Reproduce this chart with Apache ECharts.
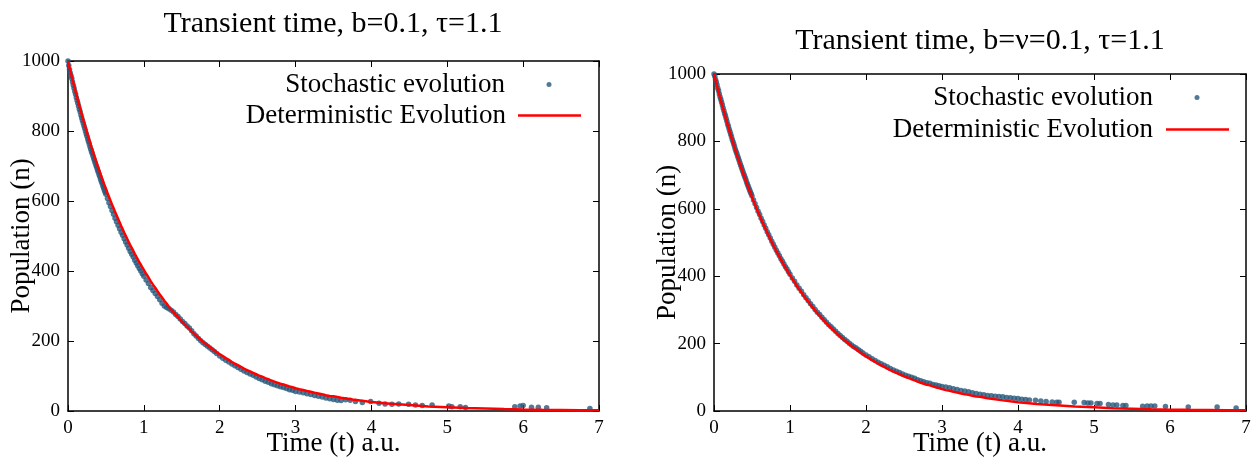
<!DOCTYPE html>
<html><head><meta charset="utf-8">
<script src="https://cdn.jsdelivr.net/npm/echarts@6/dist/echarts.min.js"></script>
<style>html,body{margin:0;padding:0;background:#fff}#c{width:1257px;height:461px}</style>
</head><body><div id="c"></div><script>
// ---------- data ----------
const titles = ['Transient time, b=0.1, τ=1.1', 'Transient time, b=ν=0.1, τ=1.1'];
const xName = 'Time (t) a.u.';
const yName = 'Population (n)';
const seriesNames = ['Stochastic evolution', 'Deterministic Evolution'];

// time samples used for the dense part of the curves
const denseTime = [0,0.01,0.02,0.03,0.04,0.05,0.06,0.07,0.08,0.09,0.10,0.11,0.12,0.13,0.14,0.15,0.16,0.17,0.18,0.19,0.20,0.21,0.22,0.23,0.24,0.25,0.26,0.27,0.28,0.29,0.30,0.31,0.32,0.33,0.34,0.35,0.36,0.37,0.38,0.39,0.40,0.41,0.42,0.43,0.44,0.45,0.46,0.47,0.48,0.49,0.50,0.52,0.54,0.56,0.58,0.60,0.62,0.64,0.66,0.68,0.70,0.72,0.74,0.76,0.78,0.80,0.82,0.84,0.86,0.88,0.90,0.92,0.94,0.96,0.98,1.00,1.03,1.06,1.09,1.12,1.15,1.18,1.21,1.24,1.27,1.30,1.33,1.36,1.39,1.42,1.45,1.48,1.51,1.54,1.57,1.60,1.63,1.66,1.69,1.72,1.75,1.78,1.81,1.84,1.87,1.90,1.93,1.96,2.00,2.04,2.08,2.12,2.16,2.20,2.24,2.28,2.32,2.36,2.40,2.44,2.48,2.52,2.56,2.60,2.64,2.68,2.72,2.76,2.80,2.84,2.88,2.92,2.96,3.00,3.05,3.10,3.15,3.20,3.25,3.30,3.35,3.40,3.45,3.50,3.55,3.60];

// deterministic curve (same in both panels)
const detDensePop = [1000,991,982,973,964,956,947,938,930,921,913,905,897,889,880,873,865,857,849,841,834,826,819,811,804,797,789,782,775,768,761,754,748,741,734,727,721,714,708,701,695,689,683,676,670,664,658,652,646,641,635,623,612,601,590,580,569,559,549,539,529,520,510,501,492,483,474,466,458,449,441,433,425,418,410,403,392,382,371,361,352,342,333,324,315,307,298,290,283,275,268,260,253,247,240,234,227,221,215,209,204,198,193,188,183,178,173,168,162,157,151,146,140,135,131,126,121,117,113,109,105,101,98,94,91,87,84,81,78,76,73,70,68,65,62,60,57,55,52,50,48,45,43,42,40,38];
const detTailTime = [3.75,4.0,4.25,4.5,4.75,5.0,5.25,5.5,5.75,6.0,6.25,6.5,6.75,7.0];
const detTailPop  = [33,26,21,17,13,11,8.5,7,5.4,4,3.4,3,2.2,2];

// stochastic trajectory, dense part
const leftDensePop = [1000,987,976,966,958,950,940,931,922,913,905,896,887,879,871,862,855,846,838,830,823,815,808,800,792,785,777,770,763,755,748,741,735,728,721,714,708,701,695,688,682,675,669,662,656,650,643,637,631,625,619,607,595,584,573,562,551,541,531,521,511,502,492,483,474,465,456,448,440,431,423,415,407,400,392,385,374,364,353,344,336,327,318,308,300,296,292,288,283,276,270,263,256,250,243,237,229,221,214,207,201,195,190,185,180,175,170,164,157,151,145,140,134,129,124,119,114,110,106,102,97,93,89,85,82,78,75,72,69,67,64,61,59,56,54,52,49,47,44,42,40,37,35,33,31,30];
const rightDensePop = [1000,993,984,976,967,958,950,941,932,924,916,908,899,891,883,876,868,860,851,844,836,829,821,814,806,799,792,785,777,770,764,757,751,744,737,730,724,717,711,704,698,692,686,679,673,667,661,655,649,644,638,626,615,604,593,583,572,562,552,542,532,523,513,504,495,486,477,469,461,452,444,436,428,421,413,406,395,385,374,364,355,345,336,327,318,310,301,293,286,278,271,263,256,250,243,237,230,224,218,212,207,201,196,191,187,182,177,172,166,161,155,150,145,140,136,131,126,122,118,114,110,106,103,100,97,93,90,87,84,82,79,77,75,73,71,69,66,64,61,59,57,54,52,50,48,46];

// stochastic trajectory, sparse tail
const leftTailTime = [3.66,3.72,3.79,3.88,3.99,4.10,4.18,4.27,4.36,4.49,4.58,4.67,4.80,5.02,5.06,5.17,5.24,5.89,5.96,6.00,6.11,6.20,6.31,6.88];
const leftTailPop  = [32,31,27,24,27,22,20,19,20,19,17,16,17,14,12,12,10,12,14,16,11,11,9,7];
const rightTailTime = [3.65,3.70,3.75,3.80,3.85,3.90,3.95,4.00,4.05,4.10,4.15,4.23,4.30,4.37,4.45,4.51,4.54,4.74,4.87,4.92,4.96,5.04,5.08,5.19,5.25,5.30,5.38,5.42,5.64,5.70,5.75,5.80,5.94,6.24,6.62,6.87];
const rightTailPop  = [45,44,43,42,40,39,38,37,35,34,33,32,30,28,27,26,26,26,25,24,24,22,22,19,18,18,16,16,14,15,15,15,13,12,12,9];

const xTickMin = 0, xTickMax = 7, xTickStep = 1;
const yTickMin = 0, yTickMax = 1000, yTickStep = 200;

// ---------- build ----------
const FONT = 'Liberation Serif';
const BLUE = '#27577c';
const RED = '#ff0000';
const zip = (a, b) => a.map((v, i) => [v, b[i]]);
const detData = zip(denseTime, detDensePop).concat(zip(detTailTime, detTailPop));
const leftStoch = zip(denseTime, leftDensePop).concat(zip(leftTailTime, leftTailPop));
const rightStoch = zip(denseTime, rightDensePop).concat(zip(rightTailTime, rightTailPop));

const grids = [
  {left: 68, top: 61, width: 531, height: 350, containLabel: false, outerBoundsMode: 'none'},
  {left: 714, top: 74, width: 532, height: 337, containLabel: false, outerBoundsMode: 'none'}
];
const frameLine = {show: true, onZero: false, lineStyle: {color: '#000', width: 1.5}};
const tick = {show: true, inside: true, length: 6, lineStyle: {color: '#000', width: 1}};
const xAxes = [], yAxes = [];
grids.forEach((g, gi) => {
  xAxes.push({gridIndex: gi, type: 'value', position: 'bottom', min: xTickMin, max: xTickMax, interval: xTickStep,
    axisLine: frameLine, axisTick: tick, splitLine: {show: false},
    axisLabel: {fontFamily: FONT, fontSize: 19, color: '#000', margin: 8},
    name: xName, nameLocation: 'middle', nameGap: 19, nameMoveOverlap: false,
    nameTextStyle: {fontFamily: FONT, fontSize: 27, color: '#000', verticalAlign: 'top'}});
  xAxes.push({gridIndex: gi, type: 'value', position: 'top', min: xTickMin, max: xTickMax, interval: xTickStep,
    axisLine: frameLine, axisTick: tick, splitLine: {show: false}, axisLabel: {show: false}});
  yAxes.push({gridIndex: gi, type: 'value', position: 'left', min: yTickMin, max: yTickMax, interval: yTickStep,
    axisLine: frameLine, axisTick: tick, splitLine: {show: false},
    axisLabel: {fontFamily: FONT, fontSize: 19, color: '#000', margin: 8, formatter: v => String(v)},
    name: yName, nameLocation: 'middle', nameGap: 33, nameRotate: 90, nameMoveOverlap: false,
    nameTextStyle: {fontFamily: FONT, fontSize: 27, color: '#000'}});
  yAxes.push({gridIndex: gi, type: 'value', position: 'right', min: yTickMin, max: yTickMax, interval: yTickStep,
    axisLine: frameLine, axisTick: tick, splitLine: {show: false}, axisLabel: {show: false}});
});

const legendText = (pad) => ({fontFamily: FONT, fontSize: 27, color: '#000', padding: [0, pad, 0, 0]});
const legendBase = {orient: 'horizontal', align: 'right', padding: 0, selectedMode: false};
const legends = [
  Object.assign({}, legendBase, {data: [{name: seriesNames[0], icon: 'circle'}], right: 705.5, top: 71, itemWidth: 5, itemHeight: 5, textStyle: legendText(36.5)}),
  Object.assign({}, legendBase, {data: [{name: seriesNames[1], icon: 'rect'}], right: 676, top: 102, itemWidth: 63, itemHeight: 2.5, textStyle: legendText(7)}),
  Object.assign({}, legendBase, {data: [{name: seriesNames[0], icon: 'circle'}], right: 57.5, top: 84, itemWidth: 5, itemHeight: 5, textStyle: legendText(36.5)}),
  Object.assign({}, legendBase, {data: [{name: seriesNames[1], icon: 'rect'}], right: 28, top: 116, itemWidth: 63, itemHeight: 2.5, textStyle: legendText(8)})
];

const series = [];
[leftStoch, rightStoch].forEach((stoch, gi) => {
  series.push({name: seriesNames[0], type: 'scatter', xAxisIndex: gi * 2, yAxisIndex: gi * 2,
    data: stoch, symbol: 'circle', symbolSize: 5.5, itemStyle: {color: BLUE}, z: 2, silent: true});
  series.push({name: seriesNames[1], type: 'line', xAxisIndex: gi * 2, yAxisIndex: gi * 2,
    data: detData, symbol: 'none', showSymbol: false, smooth: false,
    lineStyle: {color: RED, width: 2.5}, itemStyle: {color: RED}, z: 3, silent: true});
});

const chart = echarts.init(document.getElementById('c'), null, {renderer: 'canvas'});
chart.setOption({
  animation: false,
  backgroundColor: '#fff',
  title: [
    {text: titles[0], left: 333, top: 9, textAlign: 'center', padding: 0,
      textStyle: {fontFamily: FONT, fontSize: 30, fontWeight: 'normal', color: '#000'}},
    {text: titles[1], left: 980, top: 26, textAlign: 'center', padding: 0,
      textStyle: {fontFamily: FONT, fontSize: 30, fontWeight: 'normal', color: '#000'}}
  ],
  legend: legends,
  grid: grids,
  xAxis: xAxes,
  yAxis: yAxes,
  series: series
});
</script></body></html>
